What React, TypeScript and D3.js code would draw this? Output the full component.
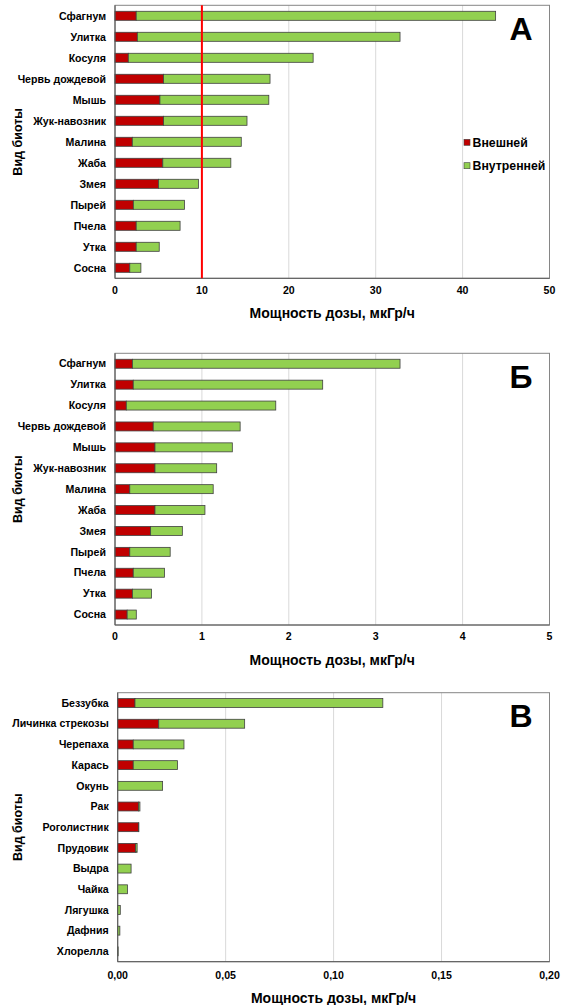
import React from "react";
import * as d3 from "d3";

const categoriesA = ["Сфагнум", "Улитка", "Косуля", "Червь дождевой", "Мышь", "Жук-навозник", "Малина", "Жаба", "Змея", "Пырей", "Пчела", "Утка", "Сосна"];
const externalA = [2.44, 2.57, 1.53, 5.59, 5.17, 5.59, 1.99, 5.5, 5.0, 2.11, 2.44, 2.44, 1.7];
const internalA = [41.36, 30.23, 21.27, 12.25, 12.53, 9.6, 12.54, 7.83, 4.6, 5.88, 5.05, 2.65, 1.28];
const ticksA = [0, 10, 20, 30, 40, 50];
const limitA = 10;

const categoriesB = categoriesA;
const externalB = [0.2, 0.21, 0.13, 0.44, 0.46, 0.46, 0.17, 0.46, 0.41, 0.17, 0.21, 0.2, 0.14];
const internalB = [3.08, 2.18, 1.72, 1.0, 0.89, 0.71, 0.96, 0.575, 0.365, 0.465, 0.36, 0.22, 0.105];
const ticksB = [0, 1, 2, 3, 4, 5];

const categoriesC = ["Беззубка", "Личинка стрекозы", "Черепаха", "Карась", "Окунь", "Рак", "Роголистник", "Прудовик", "Выдра", "Чайка", "Лягушка", "Дафния", "Хлорелла"];
const externalC = [0.008, 0.019, 0.0072, 0.0072, 0, 0.0097, 0.0097, 0.0083, 0, 0, 0, 0, 0];
const internalC = [0.1148, 0.0398, 0.0235, 0.0205, 0.0208, 0.0006, 0.0001, 0.0007, 0.0062, 0.0045, 0.0012, 0.001, 0.0002];
const ticksC = [0, 0.05, 0.1, 0.15, 0.2];

const seriesNames = ["Внешней", "Внутренней"];
const RED = "#C00000";
const GREEN = "#92D050";
const FONT = "'Liberation Sans', Arial, sans-serif";

type PanelProps = {
  cats: string[];
  ext: number[];
  int: number[];
  ticks: number[];
  fmt: (v: number) => string;
  x0: number; x1: number; y0: number; y1: number;
  letter: string;
  tickDy: number;
  titleDy: number;
  limit?: number;
  legend?: boolean;
};

function Panel(p: PanelProps) {
  const x = d3.scaleLinear().domain([p.ticks[0], p.ticks[p.ticks.length - 1]]).range([p.x0, p.x1]);
  const y = d3.scaleBand<string>().domain(p.cats).range([p.y0, p.y1]).paddingInner(0.57).paddingOuter(0.285);
  const bh = y.bandwidth();
  const midY = (p.y0 + p.y1) / 2;
  return (
    <g fontFamily={FONT} fontWeight="bold">
      {p.ticks.map((t, i) => (
        <line key={"g" + i} x1={x(t)} x2={x(t)} y1={p.y0} y2={p.y1} stroke="#d9d9d9" strokeWidth={1} />
      ))}
      <rect x={p.x0} y={p.y0} width={p.x1 - p.x0} height={p.y1 - p.y0} fill="none" stroke="#868686" strokeWidth={1} />
      {p.cats.map((c, i) => {
        const yy = y(c)!;
        const e = p.ext[i];
        const n = p.int[i];
        return (
          <g key={c}>
            {e > 0 && (
              <rect x={x(0)} y={yy} width={x(e) - x(0)} height={bh} fill={RED} stroke="#404040" strokeWidth={0.8} />
            )}
            {n > 0 && (
              <rect x={x(e)} y={yy} width={x(e + n) - x(e)} height={bh} fill={GREEN} stroke="#404040" strokeWidth={0.8} />
            )}
            <text x={p.x0 - 9} y={yy + bh / 2} dy="0.35em" textAnchor="end" fontSize={10.6} fill="#000">{c}</text>
          </g>
        );
      })}
      <line x1={p.x0} x2={p.x0} y1={p.y0} y2={p.y1} stroke="#595959" strokeWidth={1} />
      <line x1={p.x0} x2={p.x1} y1={p.y1} y2={p.y1} stroke="#595959" strokeWidth={1} />
      {p.limit !== undefined && (
        <line x1={x(p.limit)} x2={x(p.limit)} y1={p.y0} y2={p.y1} stroke="#FF0000" strokeWidth={2} />
      )}
      {p.ticks.map((t, i) => (
        <text key={"t" + i} x={x(t)} y={p.y1 + p.tickDy} dy="0.35em" textAnchor="middle" fontSize={10.6} fill="#000">{p.fmt(t)}</text>
      ))}
      <text x={(p.x0 + p.x1) / 2} y={p.y1 + p.titleDy} dy="0.35em" textAnchor="middle" fontSize={14} fill="#000">Мощность дозы, мкГр/ч</text>
      <text transform={`translate(18,${midY}) rotate(-90)`} dy="0.35em" textAnchor="middle" fontSize={12.5} fill="#000">Вид биоты</text>
      <text x={p.x1 - 28.5} y={p.y0 + 23} dy="0.36em" textAnchor="middle" fontSize={32} fill="#000">{p.letter}</text>
      {p.legend && (
        <g>
          {seriesNames.map((s, i) => (
            <g key={s} transform={`translate(${p.x1 - 85.5},${p.y0 + 137 + i * 23.4})`}>
              <rect x={0} y={-3} width={6} height={6} fill={i === 0 ? RED : GREEN} stroke="#404040" strokeWidth={0.6} />
              <text x={8.5} y={0} dy="0.35em" fontSize={12.3} fill="#000">{s}</text>
            </g>
          ))}
        </g>
      )}
    </g>
  );
}

export default function App() {
  const fmtInt = (v: number) => d3.format("d")(v);
  const fmtC = (v: number) => d3.format(".2f")(v).replace(".", ",");
  return (
    <svg width={562} height={1005} style={{ position: "absolute", left: 0, top: 0, background: "#fff" }}>
      <rect x={0} y={0} width={562} height={1005} fill="#fff" />
      <Panel cats={categoriesA} ext={externalA} int={internalA} ticks={ticksA} fmt={fmtInt}
        x0={115} x1={549.5} y0={5.3} y1={278.3} letter="А" tickDy={12} titleDy={35} limit={limitA} legend />
      <Panel cats={categoriesB} ext={externalB} int={internalB} ticks={ticksB} fmt={fmtInt}
        x0={115} x1={549.5} y0={353.3} y1={625} letter="Б" tickDy={11.7} titleDy={35} />
      <Panel cats={categoriesC} ext={externalC} int={internalC} ticks={ticksC} fmt={fmtC}
        x0={117.7} x1={549.5} y0={692.7} y1={961.7} letter="В" tickDy={13.3} titleDy={36} />
    </svg>
  );
}
